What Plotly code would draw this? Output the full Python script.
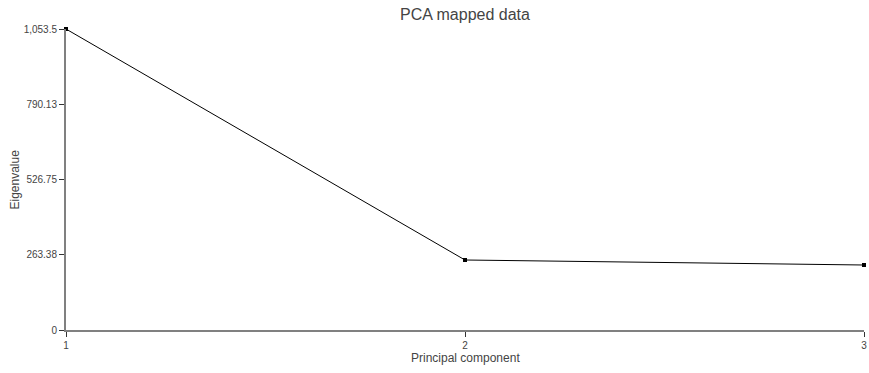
import plotly.graph_objects as go

components = [1, 2, 3]
eigenvalues = [1053.5, 245.0, 227.5]
y_tickvals = [0, 263.375, 526.75, 790.125, 1053.5]
y_ticktext = ["0", "263.38", "526.75", "790.13", "1,053.5"]
x_tickvals = [1, 2, 3]
x_ticktext = ["1", "2", "3"]

W, H = 869, 373
L, R, T, B = 66, 5, 29, 43

fig = go.Figure(go.Scatter(
    x=components, y=eigenvalues, mode="lines+markers",
    line=dict(color="black", width=1),
    marker=dict(symbol="square", size=4, color="black"),
    cliponaxis=False, hoverinfo="x+y",
))

font = "Liberation Sans, Arial, Helvetica, sans-serif"
fig.update_layout(
    width=W, height=H,
    margin=dict(l=L, r=R, t=T, b=B, autoexpand=False),
    paper_bgcolor="white", plot_bgcolor="white",
    showlegend=False,
    font=dict(family=font, color="#444", size=10),
    title=dict(text="PCA mapped data", x=(L + (W - R)) / 2 / W, xanchor="center",
               y=1 - 14 / H, yanchor="middle", yref="container", automargin=False,
               font=dict(size=16, color="#444", family=font)),
)
fig.update_xaxes(
    range=[1, 3], tickvals=x_tickvals, ticktext=x_ticktext, automargin=False,
    showgrid=False, zeroline=False, showline=True, linecolor="#808080", linewidth=2,
    ticks="outside", ticklen=5, tickcolor="#333", tickwidth=1,
    tickfont=dict(size=10, color="#444"),
)
fig.update_yaxes(
    range=[0, 1053.5], tickvals=y_tickvals, ticktext=y_ticktext, automargin=False,
    showgrid=False, zeroline=False, showline=True, linecolor="#808080", linewidth=2,
    ticks="outside", ticklen=5, tickcolor="#333", tickwidth=1,
    tickfont=dict(size=10, color="#444"),
)
fig.add_annotation(text="Principal component", xref="paper", yref="paper",
                   x=0.5, y=-(358 - (H - B)) / (H - T - B), xanchor="center", yanchor="middle",
                   showarrow=False, font=dict(size=12, color="#444", family=font))
fig.add_annotation(text="Eigenvalue", xref="paper", yref="paper",
                   x=-(L - 14) / (W - L - R), y=0.5, xanchor="center", yanchor="middle",
                   textangle=-90, showarrow=False, font=dict(size=12, color="#444", family=font))

fig.write_html("out.html", config={"displayModeBar": False},
               post_script="document.body.style.margin='0';document.body.style.overflow='hidden';")
